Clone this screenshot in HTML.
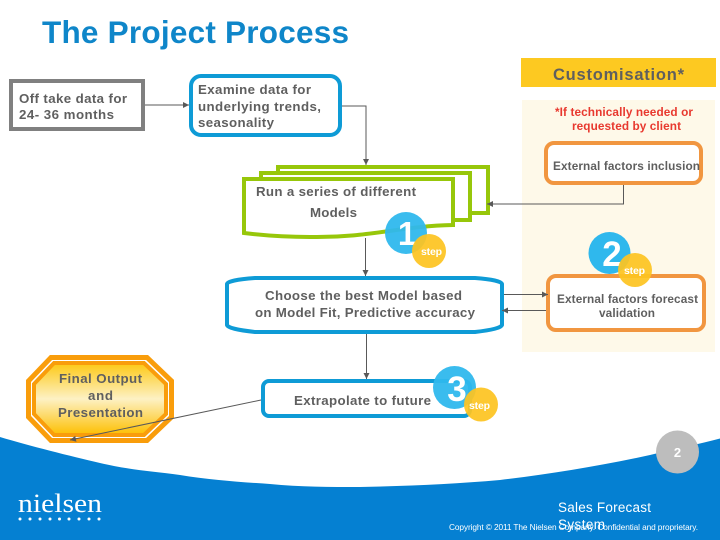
<!DOCTYPE html>
<html><head><meta charset="utf-8"><style>
html,body{margin:0;padding:0;background:#fff}
svg{display:block}
text{font-family:"Liberation Sans",sans-serif;font-weight:bold;fill:#5f5f5f;font-size:13.3px}
.r{fill:#e8392f;font-size:11.8px}
.s{font-size:11.8px}
.d{fill:#fff;font-size:35px;text-anchor:middle}
.st{fill:#fff;font-size:10.5px}
</style></head><body>
<svg width="720" height="540" viewBox="0 0 720 540" xmlns="http://www.w3.org/2000/svg">
<defs>
<linearGradient id="g" x1="0" y1="0" x2="0" y2="1"><stop offset="0" stop-color="#fdc813"/><stop offset=".5" stop-color="#fdf1c4"/><stop offset="1" stop-color="#fdbf00"/></linearGradient>
<marker id="a" markerWidth="7" markerHeight="7" refX="6" refY="3.5" orient="auto" markerUnits="userSpaceOnUse"><path d="M0,0.5L6,3.5L0,6.5Z" fill="#595959"/></marker>
</defs>
<path d="M0,437 C30,446 70,456 100,463 C130,470 150,471 180,475 C210,480 240,482 270,484 C300,487 330,487 360,487 C410,486 455,484 500,480 C550,474 600,466 650,455 C675,449 700,444 720,438.5 L720,540 L0,540Z" fill="#0580d2"/>
<rect x="522" y="100" width="193" height="252" fill="#fef9e9"/>
<rect x="521" y="58" width="195" height="29" fill="#fdc921"/>
<text x="42" y="43" style="font-size:31.5px;fill:#0f86c9" textLength="307" lengthAdjust="spacing">The Project Process</text>
<text x="553" y="80" style="font-size:16.5px" textLength="131" lengthAdjust="spacing">Customisation*</text>
<text class="r" x="555" y="116" textLength="138" lengthAdjust="spacing">*If technically needed or</text>
<text class="r" x="572" y="130" textLength="109" lengthAdjust="spacing">requested by client</text>

<rect x="11" y="81" width="132" height="48" fill="#fff" stroke="#808080" stroke-width="4"/>
<rect x="191" y="76" width="149" height="59" rx="10" fill="#fff" stroke="#0e9bd6" stroke-width="4"/>
<rect x="278" y="167" width="210" height="46" fill="#fff" stroke="#97c70a" stroke-width="4"/>
<rect x="261" y="173" width="209" height="47" fill="#fff" stroke="#97c70a" stroke-width="4"/>
<path d="M244,179 L453,179 L453,225 C400,226 370,238 310,237 C280,237 260,235 244,233 Z" fill="#fff" stroke="#97c70a" stroke-width="4"/>
<path d="M227,284 Q228,280 255,278 L475,278 Q501,280 502,284 L502,325 Q501,329 475,332 L255,332 Q228,329 227,325 Z" fill="#fff" stroke="#0e9bd6" stroke-width="4"/>
<rect x="263" y="381" width="207" height="35" rx="6" fill="#fff" stroke="#0e9bd6" stroke-width="4"/>
<rect x="546" y="143" width="155" height="40" rx="8" fill="#fff" stroke="#f19640" stroke-width="4"/>
<rect x="548" y="276" width="156" height="54" rx="8" fill="#fff" stroke="#f19640" stroke-width="4"/>

<polygon points="51,357.500 147,357.500 171.500,381 171.500,417 147,440.500 51,440.500 28.500,417 28.500,381" fill="#fff" stroke="#f99d0b" stroke-width="5"/>
<polygon points="54,363 144,363 166,384 166,414 144,435 54,435 34,414 34,384" fill="url(#g)" stroke="#f99d0b" stroke-width="4"/>

<g stroke="#595959" stroke-width="1" fill="none">
<path d="M145,105H189" marker-end="url(#a)"/>
<path d="M342,106H366V165" marker-end="url(#a)"/>
<path d="M365.500,238V276" marker-end="url(#a)"/>
<path d="M366.500,334V379" marker-end="url(#a)"/>
<path d="M623.500,185V204H487" marker-end="url(#a)"/>
<path d="M504,294.500H548" marker-end="url(#a)"/>
<path d="M546,310.500H502" marker-end="url(#a)"/>
<path d="M261,400L70,440" marker-end="url(#a)"/>
</g>

<text x="19" y="103" textLength="108" lengthAdjust="spacing">Off take data for</text>
<text x="19" y="119" textLength="95" lengthAdjust="spacing">24- 36 months</text>
<text x="198" y="94" textLength="113" lengthAdjust="spacing">Examine data for</text>
<text x="198" y="111" textLength="123" lengthAdjust="spacing">underlying trends,</text>
<text x="198" y="127" textLength="76" lengthAdjust="spacing">seasonality</text>
<text x="256" y="196" textLength="160" lengthAdjust="spacing">Run a series of different</text>
<text x="310" y="217" textLength="47" lengthAdjust="spacing">Models</text>
<text x="265" y="300" textLength="197" lengthAdjust="spacing">Choose the best Model based</text>
<text x="255" y="317" textLength="220" lengthAdjust="spacing">on Model Fit, Predictive accuracy</text>
<text x="294" y="405" textLength="137" lengthAdjust="spacing">Extrapolate to future</text>
<text x="59" y="383" textLength="83" lengthAdjust="spacing">Final Output</text>
<text x="88" y="400" textLength="25" lengthAdjust="spacing">and</text>
<text x="58" y="417" textLength="85" lengthAdjust="spacing">Presentation</text>
<text class="s" x="553" y="170" textLength="147" lengthAdjust="spacing">External factors inclusion</text>
<text class="s" x="557" y="303" textLength="141" lengthAdjust="spacing">External factors forecast</text>
<text class="s" x="599" y="317" textLength="56" lengthAdjust="spacing">validation</text>

<circle cx="406" cy="233" r="21" fill="#2fb8ed" fill-opacity=".95"/>
<text class="d" x="407" y="245" style="font-size:33px">1</text>
<circle cx="429" cy="251" r="17" fill="#fdc421" fill-opacity=".93"/>
<text class="st" x="421" y="255" textLength="21" lengthAdjust="spacing">step</text>
<circle cx="609.500" cy="253" r="21" fill="#2fb8ed"/>
<text class="d" x="612" y="266">2</text>
<circle cx="635" cy="270" r="17" fill="#fdc421" fill-opacity=".93"/>
<text class="st" x="624" y="274" textLength="21" lengthAdjust="spacing">step</text>
<circle cx="454.500" cy="387.500" r="21.500" fill="#2fb8ed" fill-opacity=".95"/>
<text class="d" x="457" y="401">3</text>
<circle cx="481" cy="404.500" r="17" fill="#fdc421" fill-opacity=".93"/>
<text class="st" x="469" y="409" textLength="21" lengthAdjust="spacing">step</text>

<circle cx="677.500" cy="452" r="21.500" fill="#bdbdbd"/>
<text x="677.500" y="457" style="fill:#fff;font-size:13px;text-anchor:middle">2</text>

<text x="18" y="512" style="font-family:'Liberation Serif',serif;font-weight:normal;font-size:26px;fill:#fff" textLength="84" lengthAdjust="spacingAndGlyphs">nielsen</text>
<g fill="#fff"><circle cx="20" cy="519" r="1.500"/><circle cx="30" cy="519" r="1.500"/><circle cx="40" cy="519" r="1.500"/><circle cx="50" cy="519" r="1.500"/><circle cx="59.500" cy="519" r="1.500"/><circle cx="69" cy="519" r="1.500"/><circle cx="79" cy="519" r="1.500"/><circle cx="89" cy="519" r="1.500"/><circle cx="99" cy="519" r="1.500"/></g>
<text x="558" y="512" style="font-weight:normal;font-size:13.5px;fill:#fff" textLength="93" lengthAdjust="spacing">Sales Forecast</text>
<text x="558" y="529" style="font-weight:normal;font-size:13.5px;fill:#fff" textLength="47" lengthAdjust="spacing">System</text>
<text x="449" y="530" style="font-weight:normal;font-size:8.300px;fill:#fff" textLength="249" lengthAdjust="spacing">Copyright © 2011 The Nielsen Company. Confidential and proprietary.</text>
</svg>
</body></html>
